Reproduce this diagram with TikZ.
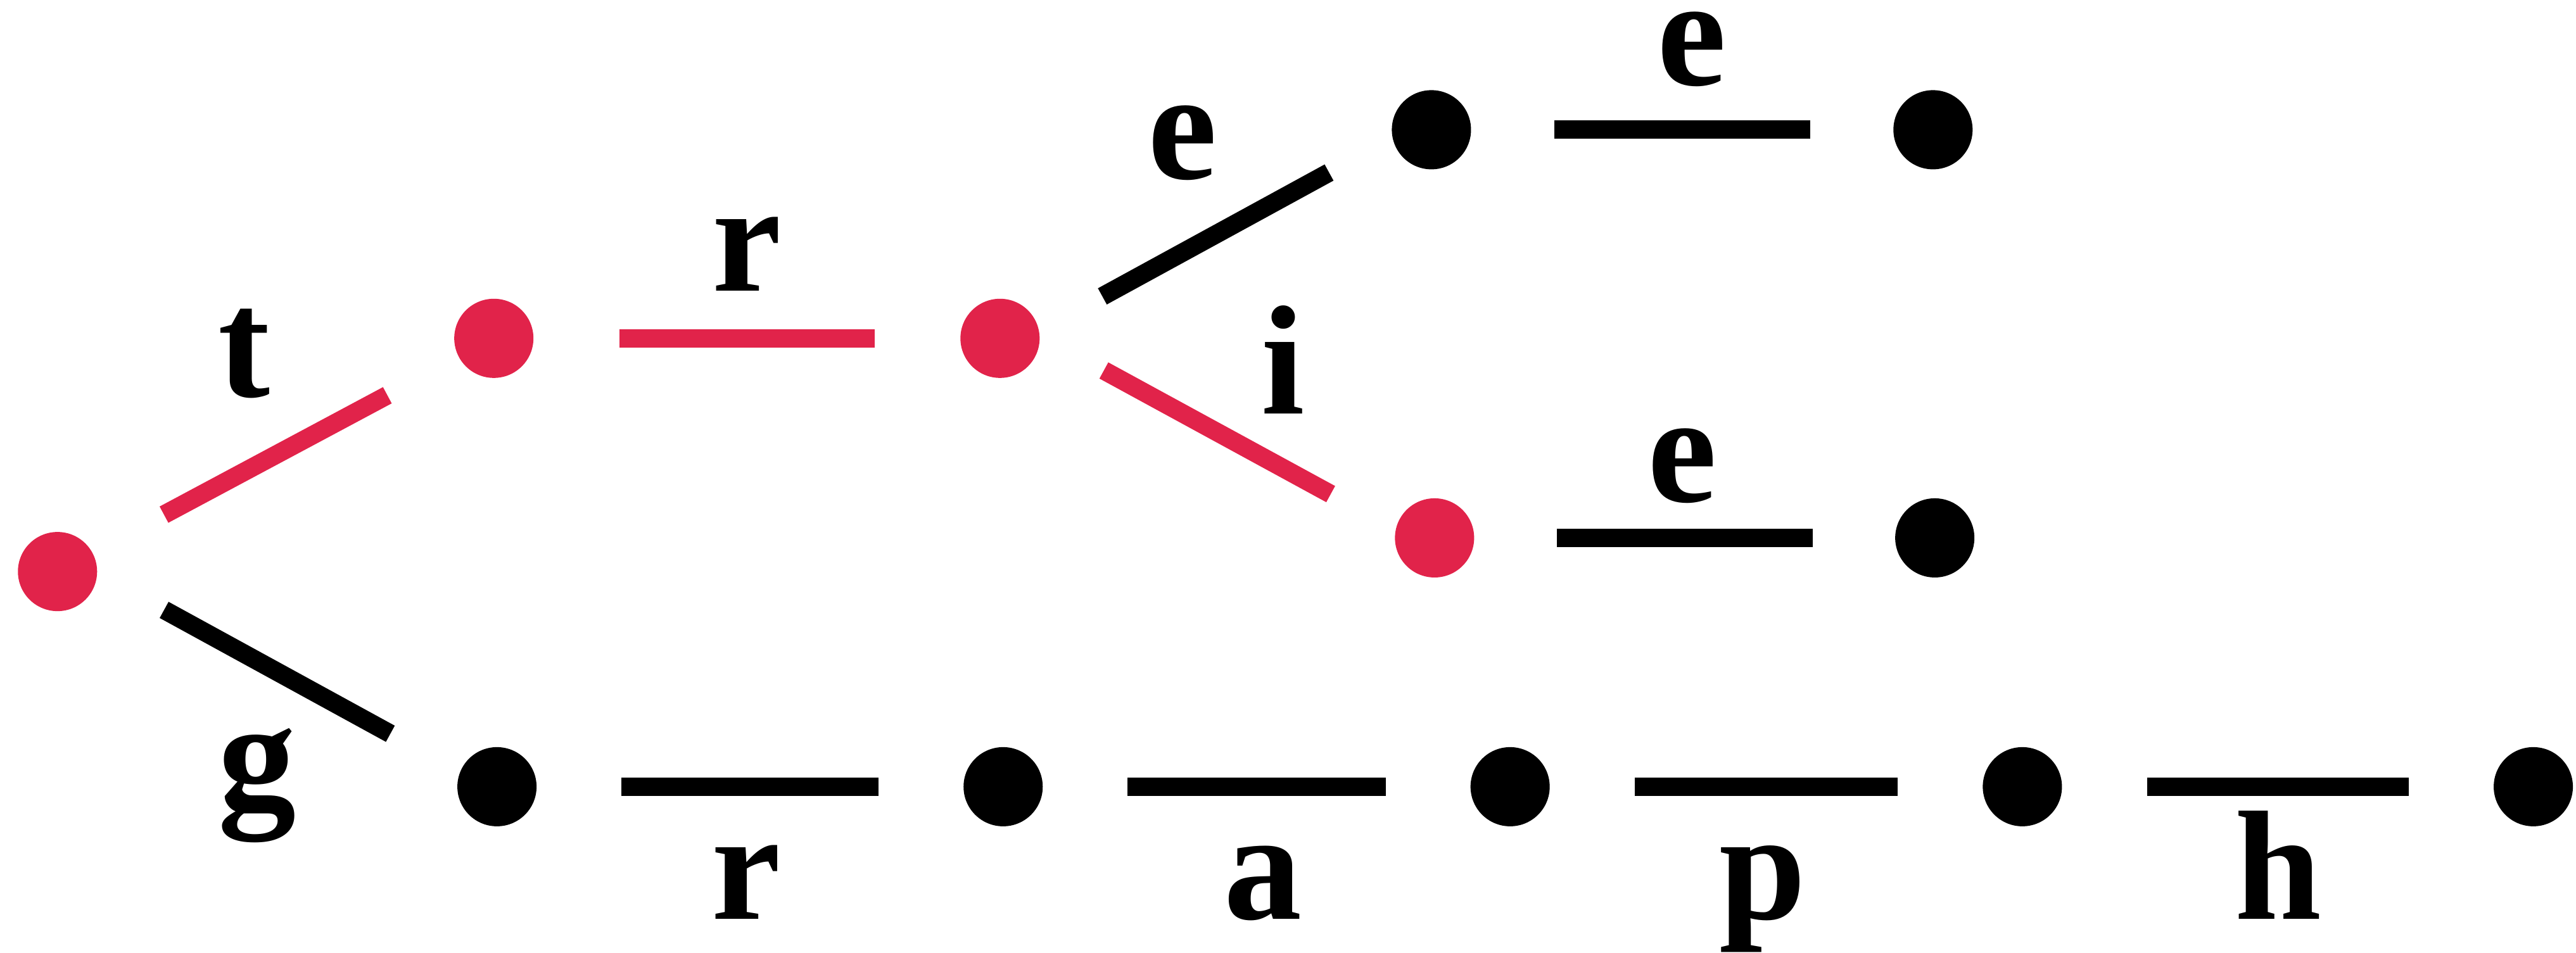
\documentclass[tikz,border=0pt]{standalone}
\usepackage{fontspec}
\setmainfont{Liberation Serif}
\definecolor{trie}{RGB}{225,35,74}
\begin{document}
\begin{tikzpicture}[x=0.1mm, y=-0.1mm,
    dot/.style={circle, fill, minimum size=4.82mm, inner sep=0pt},
    link/.style={line width=3.2pt, shorten <=#1, shorten >=#1},
    link/.default=5.1mm,
    letter/.style={anchor=base, inner sep=0pt, font=\fontsize{27}{30}\selectfont\bfseries}]
                \useasboundingbox (0, 0) rectangle (1568, 580);
                \node[dot, trie] (root) at (35, 348) {};
                \node[dot, trie] (t) at (300.6, 206) {};
                \node[dot, trie] (tr) at (608.7, 206) {};
                \node[dot] (tre) at (871.3, 79) {};
                \node[dot] (tree) at (1176.6, 79) {};
                \node[dot, trie] (tri) at (873.2, 327.5) {};
                \node[dot] (trie) at (1177.7, 327.5) {};
                \node[dot] (g) at (302.5, 479) {};
                \node[dot] (gr) at (610.6, 479) {};
                \node[dot] (gra) at (919.2, 479) {};
                \node[dot] (grap) at (1231, 479) {};
                \node[dot] (graph) at (1542, 479) {};
                \draw[link=4.87mm, trie] (root) -- (t);
                \draw[link=5.15mm, trie] (t) -- (tr);
                \draw[link=7.1mm] ([yshift=-0.85mm]tr.center) -- ([yshift=0.8mm]tre.center);
                \draw[link=5mm] (tre) -- (tree);
                \draw[link=7.2mm, trie] ([yshift=1.49mm]tr.center) -- ([yshift=-0.78mm]tri.center);
                \draw[link=4.96mm] (tri) -- (trie);
                \draw[link=7.4mm] ([yshift=1.22mm]root.center) -- ([yshift=-0.33mm]g.center);
                \draw[link] (g) -- (gr);
                \draw[link] (gr) -- (gra);
                \draw[link] (gra) -- (grap);
                \draw[link] (grap) -- (graph);
                \node[letter] (l-t) at (148.6, 241.5) {t};
                \node[letter] (l-tr) at (454.5, 177.3) {r};
                \node[letter] (l-tre) at (719.7, 109) {e};
                \node[letter] (l-tree) at (1029.7, 52) {e};
                \node[letter] (l-tri) at (781, 252) {i};
                \node[letter] (l-trie) at (1024.1, 305.7) {e};
                \node[letter] (l-g) at (156.5, 492) {g};
                \node[letter] (l-gr) at (454.2, 559.6) {r};
                \node[letter] (l-gra) at (768.8, 559.6) {a};
                \node[letter] (l-grap) at (1073, 559.6) {p};
                \node[letter] (l-graph) at (1386.7, 559.6) {h};
            \end{tikzpicture}
\end{document}
